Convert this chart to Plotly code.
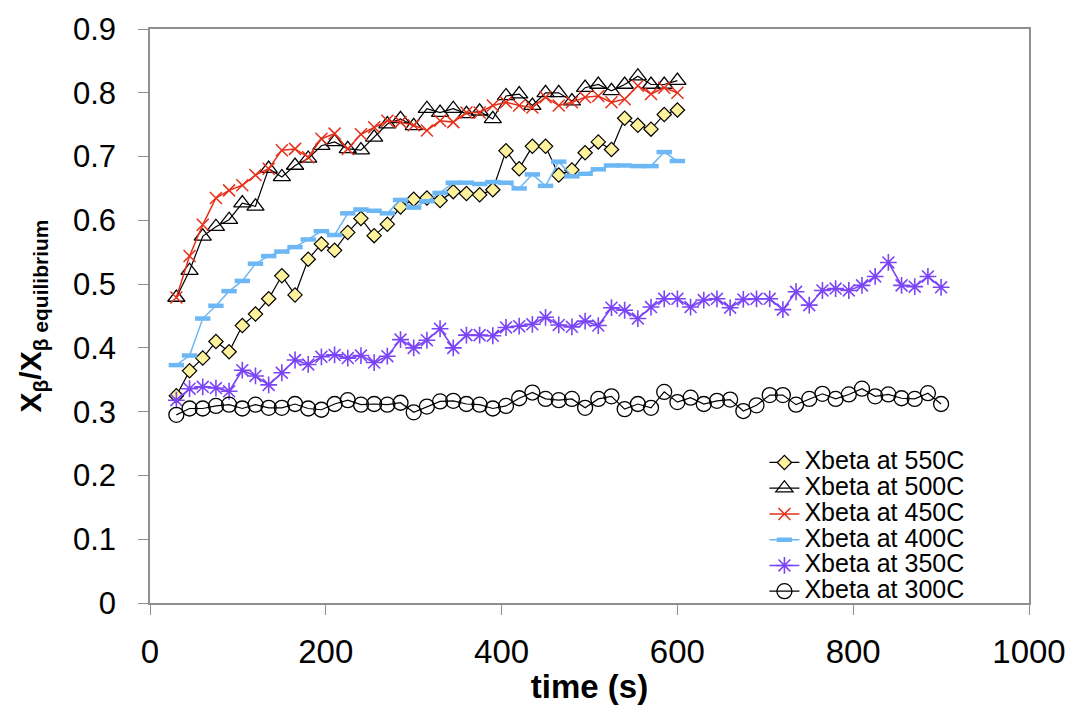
import plotly.graph_objects as go

# Sampling times (s)
time_600 = [30, 45, 60, 75, 90, 105, 120, 135, 150, 165, 180, 195, 210, 225, 240,
            255, 270, 285, 300, 315, 330, 345, 360, 375, 390, 405, 420, 435, 450,
            465, 480, 495, 510, 525, 540, 555, 570, 585, 600]
time_900 = time_600 + [615, 630, 645, 660, 675, 690, 705, 720, 735, 750, 765,
                       780, 795, 810, 825, 840, 855, 870, 885, 900]

# Normalised beta fraction at each temperature
xbeta_550 = [0.325, 0.364, 0.384, 0.410, 0.394, 0.435, 0.453, 0.477, 0.513, 0.483,
             0.539, 0.563, 0.553, 0.581, 0.603, 0.576, 0.594, 0.621, 0.633, 0.635,
             0.631, 0.645, 0.642, 0.640, 0.648, 0.709, 0.681, 0.716, 0.716, 0.671,
             0.679, 0.706, 0.723, 0.711, 0.760, 0.749, 0.743, 0.766, 0.773]
xbeta_500 = [0.479, 0.521, 0.575, 0.590, 0.601, 0.627, 0.622, 0.681, 0.668, 0.686,
             0.697, 0.717, 0.723, 0.712, 0.710, 0.730, 0.751, 0.759, 0.748, 0.775,
             0.769, 0.775, 0.767, 0.771, 0.759, 0.795, 0.798, 0.780, 0.800, 0.800,
             0.787, 0.808, 0.813, 0.803, 0.813, 0.826, 0.813, 0.813, 0.819]
xbeta_450 = [0.479, 0.544, 0.593, 0.635, 0.647, 0.655, 0.671, 0.681, 0.710, 0.712,
             0.699, 0.728, 0.736, 0.712, 0.735, 0.746, 0.756, 0.754, 0.749, 0.741,
             0.756, 0.754, 0.769, 0.769, 0.780, 0.785, 0.780, 0.777, 0.793, 0.780,
             0.785, 0.793, 0.795, 0.785, 0.790, 0.811, 0.798, 0.808, 0.800]
xbeta_400 = [0.373, 0.388, 0.446, 0.466, 0.489, 0.505, 0.532, 0.544, 0.551, 0.558,
             0.570, 0.583, 0.577, 0.611, 0.617, 0.615, 0.611, 0.632, 0.620, 0.630,
             0.643, 0.659, 0.659, 0.657, 0.660, 0.659, 0.650, 0.672, 0.654, 0.692,
             0.669, 0.673, 0.680, 0.686, 0.686, 0.685, 0.685, 0.707, 0.693]
xbeta_350 = [0.318, 0.336, 0.339, 0.337, 0.332, 0.365, 0.356, 0.342, 0.361, 0.381,
             0.374, 0.386, 0.389, 0.384, 0.388, 0.377, 0.387, 0.413, 0.400, 0.412,
             0.430, 0.400, 0.420, 0.420, 0.419, 0.432, 0.434, 0.437, 0.448, 0.436,
             0.433, 0.442, 0.435, 0.463, 0.459, 0.446, 0.464, 0.477, 0.477, 0.464,
             0.475, 0.477, 0.463, 0.476, 0.477, 0.477, 0.460, 0.488, 0.467, 0.490,
             0.493, 0.490, 0.498, 0.512, 0.534, 0.498, 0.496, 0.512, 0.495]
xbeta_300 = [0.295, 0.305, 0.305, 0.309, 0.311, 0.305, 0.311, 0.306, 0.306, 0.312,
             0.305, 0.303, 0.312, 0.318, 0.311, 0.312, 0.311, 0.314, 0.299, 0.308,
             0.316, 0.317, 0.312, 0.311, 0.305, 0.309, 0.321, 0.330, 0.320, 0.318,
             0.320, 0.306, 0.320, 0.324, 0.304, 0.312, 0.306, 0.331, 0.315, 0.322,
             0.312, 0.317, 0.319, 0.301, 0.310, 0.326, 0.326, 0.311, 0.320, 0.328,
             0.320, 0.327, 0.336, 0.324, 0.327, 0.321, 0.320, 0.329, 0.312]

x_ticks = [0, 200, 400, 600, 800, 1000]
y_ticks = [0, 0.1, 0.2, 0.3, 0.4, 0.5, 0.6, 0.7, 0.8, 0.9]

FONT = "Liberation Sans, Arial, sans-serif"


def legend_label(text):
    # larger glyphs than the legend's row height would give
    return f'<span style="font-size:25px">{text}</span>'


series = [
    dict(name="Xbeta at 550C", x=time_600, y=xbeta_550, line=dict(color="black", width=1.2),
         marker=dict(symbol="diamond", size=11, color="#FFF29C",
                     line=dict(color="black", width=1.2))),
    dict(name="Xbeta at 500C", x=time_600, y=xbeta_500, line=dict(color="black", width=1.2),
         marker=dict(symbol="triangle-up-open", size=15, color="black",
                     line=dict(color="black", width=1.3))),
    dict(name="Xbeta at 450C", x=time_600, y=xbeta_450, line=dict(color="#E5301A", width=1.5),
         marker=dict(symbol="x-thin-open", size=12, color="#E5301A",
                     line=dict(color="#E5301A", width=1.5))),
    dict(name="Xbeta at 400C", x=time_600, y=xbeta_400, line=dict(color="#6DB8F4", width=1.5),
         marker=dict(symbol="line-ew-open", size=11, color="#6DB8F4",
                     line=dict(color="#6DB8F4", width=4.5))),
    dict(name="Xbeta at 350C", x=time_900, y=xbeta_350, line=dict(color="#7B45F6", width=1.6),
         marker=dict(symbol="asterisk-open", size=14, color="#7B45F6",
                     line=dict(color="#7B45F6", width=1.6))),
    dict(name="Xbeta at 300C", x=time_900, y=xbeta_300, line=dict(color="black", width=1.2),
         marker=dict(symbol="circle-open", size=15, color="black",
                     line=dict(color="black", width=1.3))),
]

fig = go.Figure()
for s in series:
    s = dict(s)
    s["name"] = legend_label(s["name"])
    fig.add_trace(go.Scatter(mode="lines+markers", **s))

fig.update_layout(
    width=1078, height=721,
    margin=dict(l=150, r=43, t=23, b=118),
    paper_bgcolor="white", plot_bgcolor="white",
    font=dict(family=FONT, color="black"),
    showlegend=True,
    legend=dict(x=0.699, y=0.276, xanchor="left", yanchor="top",
                font=dict(size=17.5, family=FONT), bgcolor="rgba(0,0,0,0)",
                tracegroupgap=0, itemwidth=30),
)

axis_common = dict(showgrid=False, zeroline=False, showline=True, mirror=True,
                   linecolor="#8f8f8f", linewidth=1.5, ticks="outside",
                   tickcolor="#8f8f8f", ticklen=10, tickwidth=1.2)

fig.update_xaxes(range=[0, 1000], tickvals=x_ticks, ticktext=[str(v) for v in x_ticks],
                 tickfont=dict(size=33, family=FONT, color="black"),
                 ticklabelstandoff=9,
                 title=dict(text="<b>time (s)</b>", font=dict(size=33, family=FONT),
                            standoff=6),
                 **axis_common)
fig.update_yaxes(range=[0, 0.9], tickvals=y_ticks,
                 ticktext=["0" if v == 0 else f"{v:.1f}" for v in y_ticks],
                 tickfont=dict(size=31, family=FONT, color="black"),
                 ticklabelstandoff=16,
                 title=dict(text="<b>X<sub>β</sub>/X<sub>β equilibrium</sub></b>",
                            font=dict(size=30, family=FONT), standoff=22),
                 **axis_common)

fig.write_html("out.html")
